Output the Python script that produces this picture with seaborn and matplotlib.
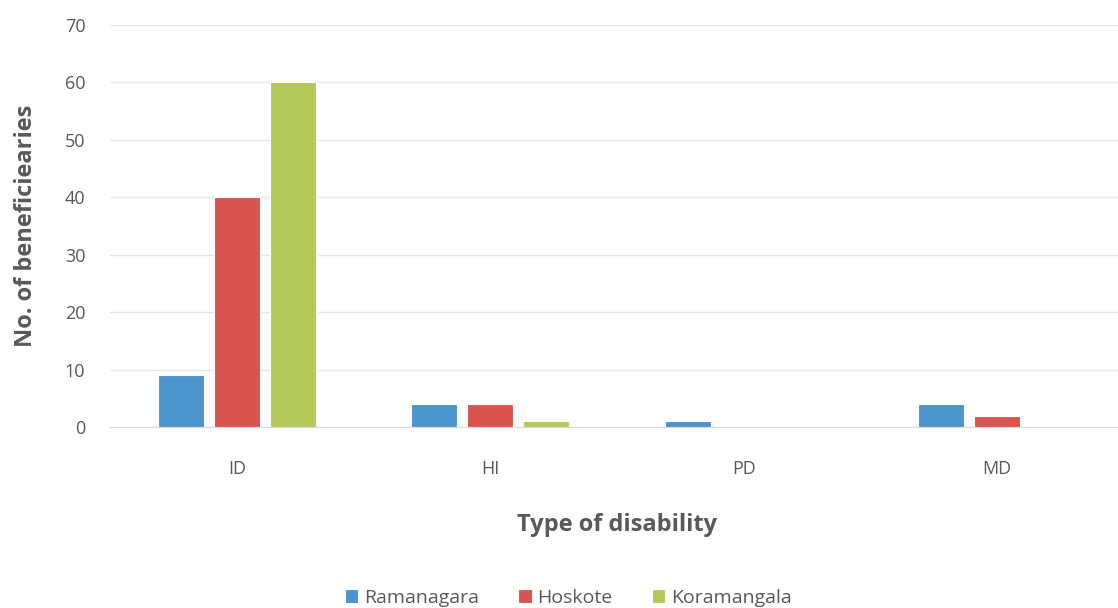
import matplotlib
matplotlib.use("Agg")
import matplotlib.pyplot as plt
import seaborn as sns
import pandas as pd

# data
disability = ["ID", "HI", "PD", "MD"]
ramanagara = [9, 4, 1, 4]
hoskote = [40, 4, 0, 2]
koramangala = [60, 1, 0, 0]
places = ["Ramanagara", "Hoskote", "Koramangala"]
colors = ["#4b94cc", "#d9534f", "#b5c85a"]

rows = []
for name, vals in zip(places, [ramanagara, hoskote, koramangala]):
    for d, v in zip(disability, vals):
        rows.append({"Type": d, "Place": name, "Count": v})
df = pd.DataFrame(rows)

sns.set_style("white")
plt.rcParams["font.family"] = ["Open Sans", "DejaVu Sans"]

fig = plt.figure(figsize=(11.18, 6.08), dpi=100)
ax = fig.add_axes([0.0987, 0.2977, 0.9064, 0.6612])

sns.barplot(data=df, x="Type", y="Count", hue="Place", order=disability,
            hue_order=places, palette=colors, width=0.663, gap=0.18,
            saturation=1, edgecolor="white", linewidth=0.8, ax=ax)

ax.set_ylim(0, 70)
ax.set_yticks(range(0, 71, 10))
ax.set_xlim(-0.5, 3.5)
ax.grid(axis="y", color="#e6e6e6", linewidth=1)
ax.set_axisbelow(True)
for s in ["top", "right", "left"]:
    ax.spines[s].set_visible(False)
ax.spines["bottom"].set_color("#d9d9d9")
ax.tick_params(axis="both", length=0, labelsize=13, colors="#595959")
ax.tick_params(axis="x", pad=24)
ax.tick_params(axis="y", pad=18)

ax.set_xlabel("Type of disability", fontsize=17, fontweight="bold",
              color="#595959", labelpad=25)
ax.set_ylabel("No. of beneficiearies", fontsize=17, fontweight="bold",
              color="#595959", labelpad=19)

ax.legend(loc="center", bbox_to_anchor=(0.452, -0.425),
          ncol=3, frameon=False, fontsize=14, handlelength=0.7,
          handleheight=0.7, handletextpad=0.3, columnspacing=2.0,
          labelcolor="#595959")

fig.savefig("out.png", dpi=100)
